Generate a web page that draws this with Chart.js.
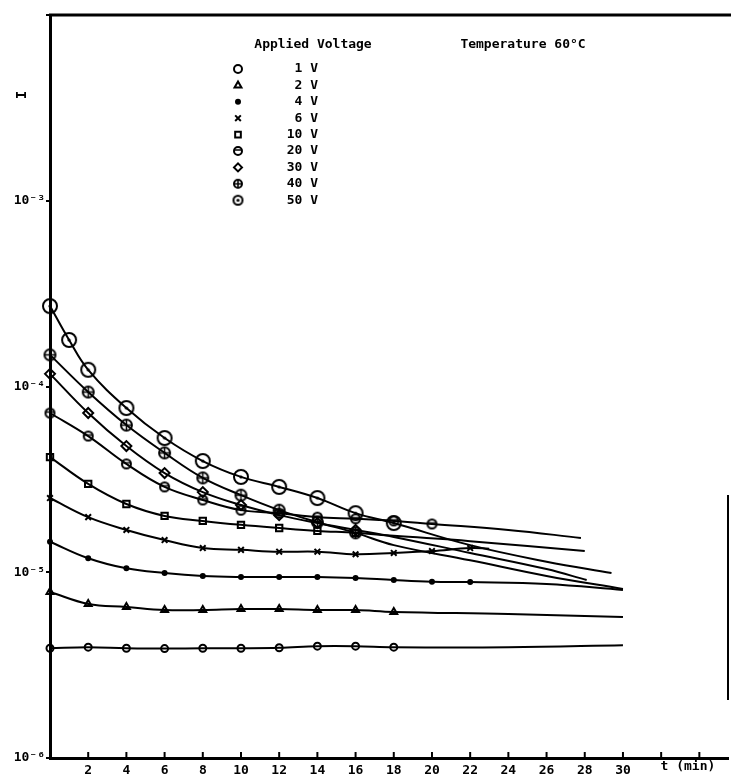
<!DOCTYPE html>
<html>
<head>
<meta charset="utf-8" />
<title>Current vs time, 60°C</title>
<style>
    html, body { margin: 0; padding: 0; background: #fff; }
    #wrap { width: 731px; height: 775px; }
</style>
</head>
<body>
<div id="wrap"><canvas id="canvasCurrent"></canvas></div>
<script src="https://cdn.jsdelivr.net/npm/chart.js@4.4.1/dist/chart.umd.min.js"></script>
<script type="text/javascript">

    // applied voltages (legend order)
    var voltages = ['1 V', '2 V', '4 V', '6 V', '10 V', '20 V', '30 V', '40 V', '50 V'];

    // time (min) and current, one pair per voltage
    var t1V  = [0, 2, 4, 6, 8, 10, 12, 14, 16, 18, 24, 30];
    var i1V  = [3.9e-6, 3.95e-6, 3.9e-6, 3.88e-6, 3.9e-6, 3.9e-6, 3.92e-6, 4.0e-6, 4.0e-6, 3.95e-6, 3.95e-6, 4.05e-6];
    var t2V  = [0, 2, 4, 6, 8, 10, 12, 14, 16, 18, 24, 30];
    var i2V  = [7.83e-6, 6.75e-6, 6.5e-6, 6.26e-6, 6.26e-6, 6.34e-6, 6.34e-6, 6.26e-6, 6.26e-6, 6.11e-6, 5.96e-6, 5.74e-6];
    var t4V  = [0, 2, 4, 6, 8, 10, 12, 14, 16, 18, 20, 22, 26, 30];
    var i4V  = [1.46e-5, 1.19e-5, 1.05e-5, 9.91e-6, 9.55e-6, 9.43e-6, 9.43e-6, 9.43e-6, 9.31e-6, 9.08e-6, 8.9e-6, 8.85e-6, 8.64e-6, 8.03e-6];
    var t6V  = [0, 2, 4, 6, 8, 10, 12, 14, 16, 18, 20, 22, 23];
    var i6V  = [2.51e-5, 1.98e-5, 1.69e-5, 1.49e-5, 1.35e-5, 1.32e-5, 1.29e-5, 1.29e-5, 1.25e-5, 1.27e-5, 1.30e-5, 1.35e-5, 1.34e-5];
    var t10V = [0, 2, 4, 6, 8, 10, 12, 14, 16, 18, 22, 28];
    var i10V = [4.17e-5, 2.99e-5, 2.33e-5, 2.01e-5, 1.89e-5, 1.80e-5, 1.73e-5, 1.67e-5, 1.63e-5, 1.57e-5, 1.47e-5, 1.30e-5];
    var t20V = [0, 2, 4, 6, 8, 10, 12, 14, 16, 18, 20, 24, 27.8];
    var i20V = [7.2e-5, 5.41e-5, 3.83e-5, 2.88e-5, 2.45e-5, 2.16e-5, 2.08e-5, 1.98e-5, 1.94e-5, 1.89e-5, 1.82e-5, 1.69e-5, 1.53e-5];
    var t30V = [0, 2, 4, 6, 8, 10, 12, 14, 16, 18, 22, 26, 28.1];
    var i30V = [1.17e-4, 7.2e-5, 4.78e-5, 3.42e-5, 2.7e-5, 2.3e-5, 2.03e-5, 1.84e-5, 1.69e-5, 1.55e-5, 1.27e-5, 1.04e-5, 9.08e-6];
    var t40V = [0, 2, 4, 6, 8, 10, 12, 14, 16, 18, 22, 26, 30];
    var i40V = [1.48e-4, 9.34e-5, 6.2e-5, 4.39e-5, 3.22e-5, 2.6e-5, 2.16e-5, 1.86e-5, 1.63e-5, 1.4e-5, 1.16e-5, 9.55e-6, 8.13e-6];
    var t50V = [0, 1, 2, 4, 6, 8, 10, 12, 14, 16, 18, 22, 26, 29.4];
    var i50V = [2.71e-4, 1.78e-4, 1.23e-4, 7.66e-5, 5.28e-5, 3.97e-5, 3.26e-5, 2.88e-5, 2.51e-5, 2.08e-5, 1.84e-5, 1.4e-5, 1.14e-5, 9.9e-6];

    // how many of the first points carry a symbol (the rest is only the drawn curve)
    var markedCount = [10, 10, 12, 12, 9, 11, 9, 9, 11];

    // axis ticks
    var xTickValues = [2, 4, 6, 8, 10, 12, 14, 16, 18, 20, 22, 24, 26, 28, 30];
    var yTickValues = [1e-6, 1e-5, 1e-4, 1e-3, 1e-2];
    var yTickLabels = ['10\u207B\u2076', '10\u207B\u2075', '10\u207B\u2074', '10\u207B\u00B3', ''];

    var FONT = '"DejaVu Sans Mono", "Liberation Mono", monospace';

    // hand-drawn looking symbols for the ones Chart.js lacks
    function makeSymbol(kind, r) {
        var c = document.createElement('canvas');
        var s = Math.ceil(r * 2 + 4);
        c.width = s; c.height = s;
        var g = c.getContext('2d');
        var m = s / 2;
        g.strokeStyle = '#000';
        g.fillStyle = '#000';
        g.lineWidth = 2;
        g.beginPath();
        g.arc(m, m, r, 0, Math.PI * 2);
        g.stroke();
        if (kind == 'dot') {
            g.beginPath();
            g.arc(m, m, 1.6, 0, Math.PI * 2);
            g.fill();
        }
        if (kind == 'cross') {
            g.lineWidth = 1.5;
            g.beginPath();
            g.moveTo(m - r, m); g.lineTo(m + r, m);
            g.moveTo(m, m - r); g.lineTo(m, m + r);
            g.stroke();
        }
        if (kind == 'bar') {
            g.lineWidth = 1.5;
            g.beginPath();
            g.moveTo(m - r, m - 1); g.lineTo(m + r, m - 1);
            g.stroke();
        }
        return c;
    }

    var pointStyles = ['circle', 'triangle', 'circle', 'crossRot', 'rect', makeSymbol('bar', 4.5), 'rectRot', makeSymbol('cross', 5.5), makeSymbol('dot', 7)];
    var legendStyles = ['circle', 'triangle', 'circle', 'crossRot', 'rect', makeSymbol('bar', 4), 'rectRot', makeSymbol('cross', 4), makeSymbol('dot', 4.5)];
    var pointSizes = [3.5, 4, 2, 4, 4.5, 4.5, 5, 5.5, 7];

    var times = [t1V, t2V, t4V, t6V, t10V, t20V, t30V, t40V, t50V];
    var currents = [i1V, i2V, i4V, i6V, i10V, i20V, i30V, i40V, i50V];

    var datasets = voltages.map(function(v, k) {
        var pts = times[k].map(function(t, j) { return {x: t, y: currents[k][j]}; });
        var radii = times[k].map(function(t, j) { return j < markedCount[k] ? pointSizes[k] : 0; });
        return {
            label: v,
            data: pts,
            borderColor: '#000',
            borderWidth: 2,
            tension: 0.4,
            pointStyle: pointStyles[k],
            pointRadius: radii,
            pointBorderColor: '#000',
            pointBorderWidth: 2,
            pointBackgroundColor: k == 2 ? '#000' : 'rgba(0,0,0,0)',
            clip: false
        };
    });

    // frame, inward x ticks, texts and the voltage key
    var decorations = {
        id: 'decorations',
        afterDraw: function(chart) {
            var ctx = chart.ctx;
            var area = chart.chartArea;
            var xs = chart.scales.x;
            ctx.save();
            ctx.strokeStyle = '#000';
            ctx.fillStyle = '#000';

            // top frame line
            ctx.lineWidth = 3;
            ctx.beginPath();
            ctx.moveTo(area.left - 1, area.top);
            ctx.lineTo(chart.width, area.top);
            ctx.stroke();

            // right edge fragment
            ctx.lineWidth = 2;
            ctx.beginPath();
            ctx.moveTo(chart.width - 3, 495);
            ctx.lineTo(chart.width - 3, 700);
            ctx.stroke();

            // x ticks pointing up into the plot
            ctx.lineWidth = 2;
            xTickValues.concat([32, 34]).forEach(function(v) {
                var px = xs.getPixelForValue(v);
                ctx.beginPath();
                ctx.moveTo(px, area.bottom);
                ctx.lineTo(px, area.bottom - 6);
                ctx.stroke();
            });

            // axis titles
            ctx.font = 'bold 13px ' + FONT;
            ctx.textBaseline = 'middle';
            ctx.textAlign = 'center';
            ctx.fillText('t (min)', xs.getPixelForValue(33.4), area.bottom + 9);
            ctx.save();
            ctx.translate(22, 95);
            ctx.rotate(-Math.PI / 2);
            ctx.font = 'bold 14px ' + FONT;
            ctx.fillText('I', 0, 0);
            ctx.restore();

            // key
            ctx.font = 'bold 13px ' + FONT;
            ctx.fillText('Applied Voltage', 313, 45);
            ctx.fillText('Temperature 60\u00B0C', 523, 45);
            ctx.textAlign = 'right';
            chart.data.datasets.forEach(function(ds, k) {
                var y = 69 + k * 16.4;
                ctx.fillStyle = k == 2 ? '#000' : 'rgba(0,0,0,0)';
                ctx.lineWidth = 2;
                Chart.helpers.drawPoint(ctx, {
                    pointStyle: legendStyles[k],
                    radius: k == 2 ? 2 : 4,
                    borderWidth: 2,
                    rotation: 0
                }, 238, y);
                ctx.fillStyle = '#000';
                ctx.fillText(ds.label, 318, y);
            });
            ctx.restore();
        }
    };

    var config = {
        type: 'line',
        data: { datasets: datasets },
        options: {
            responsive: false,
            animation: false,
            layout: { autoPadding: false, padding: { top: 15, right: 3, left: 0, bottom: 0 } },
            plugins: {
                legend: { display: false },
                tooltip: { enabled: false }
            },
            scales: {
                x: {
                    type: 'linear',
                    min: 0,
                    max: 35.5,
                    afterBuildTicks: function(scale) {
                        scale.ticks = xTickValues.map(function(v) { return {value: v}; });
                    },
                    afterFit: function(scale) {
                        scale.height = 17;
                        scale.paddingRight = 0;
                        scale.paddingLeft = 0;
                    },
                    grid: { display: false },
                    border: { display: true, color: '#000', width: 3 },
                    ticks: {
                        color: '#000',
                        padding: -3,
                        maxRotation: 0,
                        autoSkip: false,
                        font: { family: FONT, size: 13, weight: 'bold' }
                    }
                },
                y: {
                    type: 'logarithmic',
                    min: 1e-6,
                    max: 1e-2,
                    afterBuildTicks: function(scale) {
                        scale.ticks = yTickValues.map(function(v) { return {value: v}; });
                    },
                    afterFit: function(scale) { scale.width = 50; },
                    grid: {
                        display: true,
                        drawOnChartArea: false,
                        drawTicks: true,
                        tickLength: 4,
                        color: '#000',
                        lineWidth: 2
                    },
                    border: { display: true, color: '#000', width: 3 },
                    ticks: {
                        color: '#000',
                        padding: 1,
                        autoSkip: false,
                        font: { family: FONT, size: 13, weight: 'bold' },
                        callback: function(value) {
                            var idx = yTickValues.indexOf(value);
                            return idx >= 0 ? yTickLabels[idx] : '';
                        }
                    }
                }
            }
        },
        plugins: [decorations]
    };

    var canvas = document.getElementById('canvasCurrent');
    canvas.width = 731;
    canvas.height = 775;
    var chart = new Chart(canvas.getContext('2d'), config);

</script>
</body>
</html>
